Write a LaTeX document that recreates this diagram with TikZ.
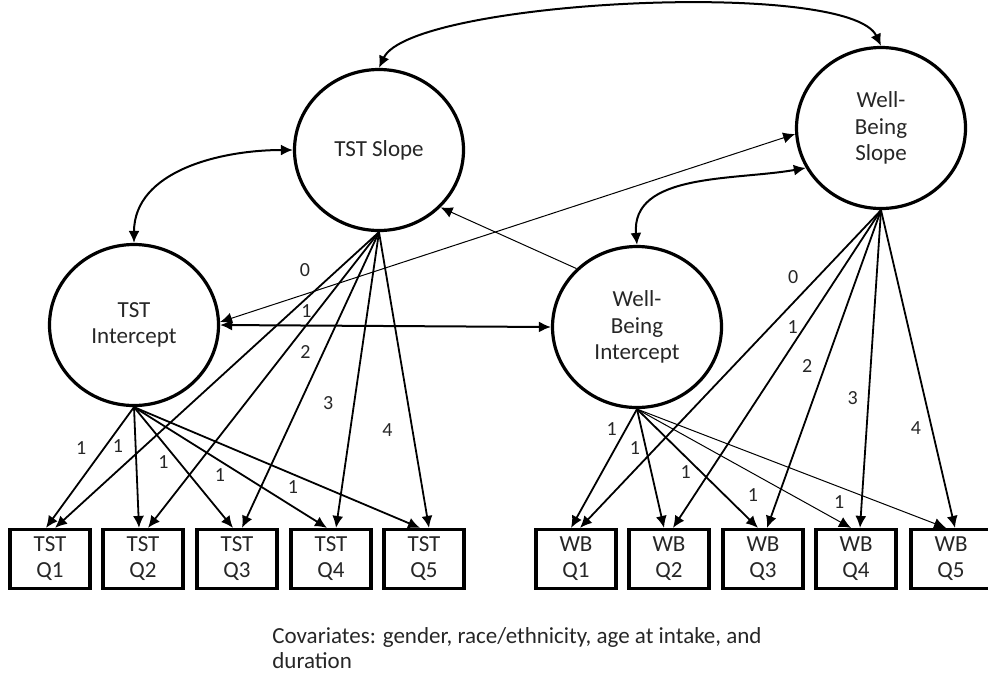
\documentclass[tikz,border=0pt]{standalone}
\usepackage{fontspec}
\setmainfont{Carlito}
\usetikzlibrary{arrows.meta,shapes.geometric,positioning}

\begin{document}
\begin{tikzpicture}[x=0.5pt,y=-0.5pt,
		latent/.style={draw,ellipse,line width=1.6pt,minimum width=84.5pt,minimum height=80.5pt,inner sep=0pt,align=center,text=black!85,font=\fontsize{11.5}{13.3}\selectfont},
		item/.style={draw,rectangle,line width=1.6pt,minimum width=40pt,minimum height=29.5pt,inner sep=0pt,align=center,text=black!85,font=\fontsize{11.5}{13}\selectfont},
		load/.style={-{Latex[length=6pt,width=5.5pt]},line width=0.9pt},
		thinload/.style={load,line width=0.5pt},
		cov/.style={{Latex[length=6pt,width=5.5pt]}-{Latex[length=6pt,width=5.5pt]},line width=1pt},
		thincov/.style={cov,line width=0.5pt},
		lbl/.style={inner sep=0pt,text=black!85,font=\fontsize{10}{12}\selectfont}]
	\useasboundingbox (0,0) rectangle (988,676);
	% growth factors
	\node[latent] (tstslope) at (379,150) {TST Slope};
	\node[latent] (tstint) at (134,325) {TST\\Intercept};
	\node[latent] (wbslope) at (881,128) {Well-\\Being\\Slope};
	\node[latent] (wbint) at (637,327) {Well-\\Being\\Intercept};
	% indicators
	\foreach \x [count=\i] in {50,143,237,331,424}
		\node[item] (tq\i) at (\x,559) {TST\\Q\i};
	\foreach \x [count=\i] in {576,669,763,856,951}
		\node[item] (wq\i) at (\x,559) {WB\\Q\i};
	% TST loadings
	\foreach \i/\t/\s in {1/0.339/-11.5,2/0.322/-8.8,3/0.458/-8,4/0.559/-11,5/0.661/-15}
		\draw[load] (tstint.south) -- ([xshift=-2pt]tq\i.north) node[lbl,pos=\t,xshift=\s pt] (til\i) {1};
	\foreach \i/\t/\s/\lab in {1/0.13/-16/0,2/0.266/-5.5/1,3/0.406/-9/2,4/0.577/-13/3,5/0.669/-12.5/4}
		\draw[load] (tstslope.south) -- ([xshift=2.5pt]tq\i.north) node[lbl,pos=\t,xshift=\s pt] (tsl\i) {\lab};
	% WB loadings
	\foreach \i/\t/\s/\w in {1/0.172/-7/load,2/0.328/-5.5/load,3/0.534/-8/load,4/0.724/-19.5/thinload,5/0.784/-20/thinload}
		\draw[\w] (wbint.south) -- ([xshift=-2.5pt]wq\i.north) node[lbl,pos=\t,xshift=\s pt] (wil\i) {1};
	\foreach \i/\t/\s/\lab in {1/0.212/-12/0,2/0.367/-6/1,3/0.49/-9/2,4/0.592/-8/3,5/0.687/-8/4}
		\draw[load] (wbslope.south) -- ([xshift=2pt]wq\i.north) node[lbl,pos=\t,xshift=\s pt] (wsl\i) {\lab};
	% covariances and paths
	\draw[cov] (tstslope.north) to[out=65,in=115,looseness=0.38] (wbslope.north);
	\draw[cov] (tstslope.west) to[out=180,in=90] (tstint.north);
	\draw[cov] (wbslope.208) to[out=190,in=95] (wbint.north);
	\draw[cov] (tstint.east) -- (wbint.west);
	\draw[thincov] (tstint.2) -- (wbslope.184);
	\draw[thinload] (wbint.136) -- (tstslope.317);
	\node[anchor=north west,align=left,inner sep=0pt,text=black!85,font=\fontsize{11.5}{12.5}\selectfont] (covs) at (272,627) {Covariates: gender, race/ethnicity, age at intake, and\\duration};
\end{tikzpicture}
\end{document}
